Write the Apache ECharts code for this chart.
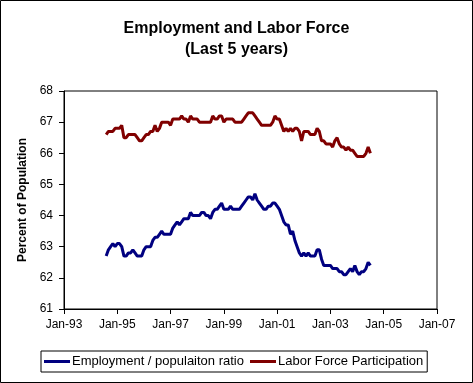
<!DOCTYPE html>
<html>
<head>
<meta charset="utf-8">
<script src="https://cdn.jsdelivr.net/npm/echarts@6/dist/echarts.min.js"></script>
<style>
html,body{margin:0;padding:0;background:#fff;}
#chart{width:473px;height:383px;}
</style>
</head>
<body>
<div id="chart"></div>
<script>
// Monthly observations, Aug 1994 .. Jul 2004
const firstYear = 1994, firstMonth = 8; // August 1994
const seriesNames = ['Employment / populaiton ratio', 'Labor Force Participation'];
const employmentRatio = [
  62.7,62.9,63.0,63.1,63.0,63.1,63.1,63.0,62.7,62.7,62.8,62.8,
  62.9,62.8,62.7,62.7,62.7,62.9,63.0,63.0,63.0,63.2,63.3,63.3,
  63.4,63.5,63.4,63.4,63.4,63.4,63.6,63.7,63.8,63.7,63.8,63.9,
  63.9,63.9,64.1,64.0,64.0,64.0,64.0,64.1,64.1,64.0,64.0,63.9,
  64.1,64.2,64.2,64.3,64.4,64.2,64.2,64.2,64.3,64.2,64.2,64.2,
  64.2,64.3,64.4,64.5,64.6,64.6,64.5,64.7,64.5,64.4,64.3,64.2,
  64.2,64.3,64.3,64.4,64.4,64.3,64.2,64.0,63.8,63.7,63.7,63.4,
  63.5,63.2,63.0,62.8,62.7,62.8,62.7,62.8,62.7,62.7,62.7,62.9,
  62.9,62.6,62.4,62.4,62.4,62.4,62.3,62.3,62.3,62.2,62.2,62.1,
  62.1,62.2,62.3,62.2,62.4,62.2,62.1,62.2,62.2,62.3,62.5,62.4
];
const laborForce = [
  66.6,66.7,66.7,66.7,66.8,66.8,66.8,66.9,66.5,66.5,66.6,66.6,
  66.6,66.6,66.5,66.4,66.4,66.5,66.6,66.6,66.7,66.7,66.9,66.7,
  66.8,67.0,67.0,67.0,67.0,66.9,67.1,67.1,67.1,67.1,67.2,67.1,
  67.1,67.0,67.2,67.1,67.1,67.1,67.0,67.0,67.0,67.0,67.0,67.0,
  67.2,67.1,67.1,67.2,67.2,67.0,67.1,67.1,67.1,67.1,67.0,67.0,
  67.0,67.0,67.1,67.2,67.3,67.3,67.3,67.2,67.1,67.0,66.9,66.9,
  66.9,66.9,66.9,67.0,67.2,67.1,67.1,66.9,66.7,66.8,66.7,66.8,
  66.7,66.8,66.8,66.7,66.4,66.7,66.7,66.7,66.6,66.6,66.6,66.8,
  66.7,66.4,66.4,66.3,66.3,66.3,66.2,66.4,66.5,66.3,66.2,66.2,
  66.1,66.2,66.1,66.1,66.0,65.9,65.9,65.9,65.9,66.0,66.2,66.0
];
// axis: months since Jan-1993
const axisStartYear = 1993;
const xMin = 0, xMax = 168, xStep = 24;
const yMin = 61, yMax = 68, yStep = 1;
const titleLines = ['Employment and Labor Force', '(Last 5 years)'];
const yAxisName = 'Percent of Population';

function monthIndex(i) {
  return (firstYear - axisStartYear) * 12 + (firstMonth - 1) + i;
}
const empData = employmentRatio.map((v, i) => [monthIndex(i), v]);
const lfData = laborForce.map((v, i) => [monthIndex(i), v]);

const chart = echarts.init(document.getElementById('chart'), null, {renderer: 'canvas'});
const font = 'Arial, "Liberation Sans", sans-serif';
chart.setOption({
  animation: false,
  backgroundColor: '#fff',
  title: {
    text: titleLines.join('\n'),
    left: 'center',
    top: 13,
    textStyle: {fontFamily: font, fontSize: 16, fontWeight: 'bold', color: '#000', lineHeight: 21}
  },
  graphic: [{
    type: 'rect', shape: {x: 0.5, y: 0.5, width: 472, height: 382},
    style: {fill: 'none', stroke: '#000', lineWidth: 1}, silent: true
  }],
  legend: {
    data: seriesNames,
    left: 41, top: 351,
    padding: [4, 4, 4, 3],
    itemGap: 6,
    itemWidth: 26, itemHeight: 3,
    borderColor: '#000', borderWidth: 1,
    icon: 'rect',
    textStyle: {fontFamily: font, fontSize: 13, color: '#000', padding: [0, 0, 0, -3]}
  },
  grid: {
    left: 64, right: 36, top: 91, bottom: 74,
    show: true, borderColor: '#000', borderWidth: 1, backgroundColor: '#fff'
  },
  xAxis: {
    type: 'value', min: xMin, max: xMax, interval: xStep,
    axisLine: {lineStyle: {color: '#000', width: 1}},
    axisTick: {show: true, length: 5, inside: false, lineStyle: {color: '#000'}},
    splitLine: {show: false},
    axisLabel: {
      fontFamily: font, fontSize: 12, color: '#000', margin: 10,
      formatter: v => 'Jan-' + String((axisStartYear + v / 12) % 100).padStart(2, '0')
    }
  },
  yAxis: {
    type: 'value', min: yMin, max: yMax, interval: yStep,
    name: yAxisName, nameLocation: 'middle', nameGap: 27,
    nameTextStyle: {fontFamily: font, fontSize: 12, fontWeight: 'bold', color: '#000'},
    axisLine: {show: true, lineStyle: {color: '#000', width: 1}},
    axisTick: {show: true, length: 5, inside: false, lineStyle: {color: '#000'}},
    splitLine: {show: false},
    axisLabel: {fontFamily: font, fontSize: 12, color: '#000', margin: 11}
  },
  series: [
    {name: seriesNames[0], type: 'line', data: empData, showSymbol: false, symbol: 'none',
     lineStyle: {color: '#000080', width: 3}, itemStyle: {color: '#000080'}},
    {name: seriesNames[1], type: 'line', data: lfData, showSymbol: false, symbol: 'none',
     lineStyle: {color: '#800000', width: 3}, itemStyle: {color: '#800000'}}
  ]
});
</script>
</body>
</html>
